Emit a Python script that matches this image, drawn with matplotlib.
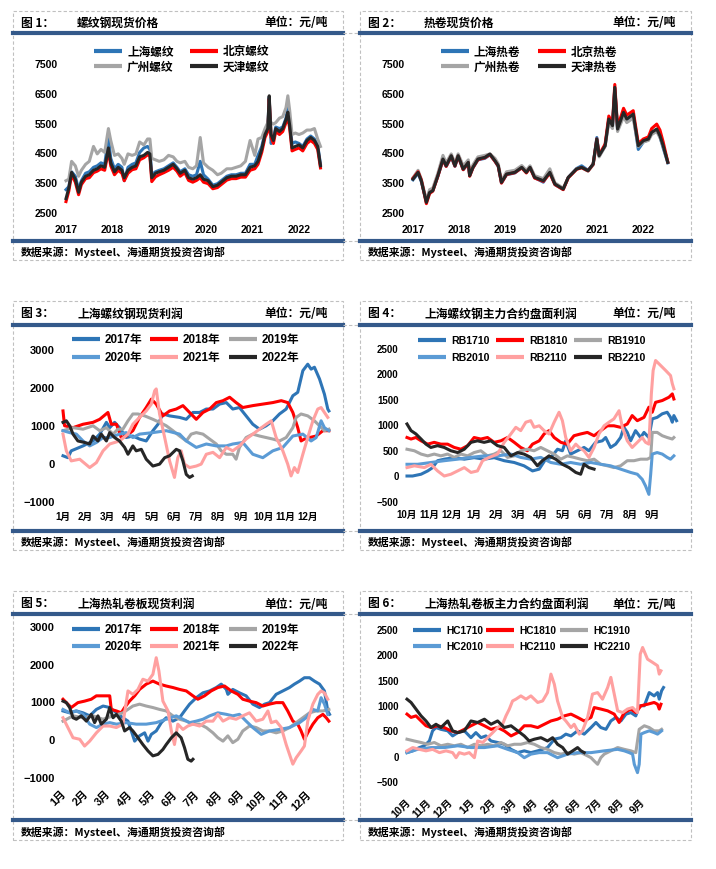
import matplotlib
matplotlib.use("Agg")
import matplotlib.pyplot as plt
from matplotlib.lines import Line2D
from matplotlib.patches import Rectangle
from matplotlib.transforms import ScaledTranslation

W, H = 716, 870
CJK = ['Noto Sans CJK SC', 'DejaVu Sans']
NUM = ['Liberation Sans', 'Noto Sans CJK SC', 'DejaVu Sans']

C1 = '#2E75B6'   # 上海 / 2017 / x1710
C2 = '#FF0000'   # 北京 / 2018 / x1810
C3 = '#A5A5A5'   # 广州 / 2019 / x1910
C4 = '#5B9BD5'   # 2020 / x2010
C5 = '#FFA0A0'   # 2021 / x2110
C6 = '#262626'   # 天津 / 2022 / x2210
BAR = '#34598A'

# ---------- 图1 螺纹钢现货价格 ----------
rebar_t = [2017.00, 2017.06, 2017.12, 2017.20, 2017.27, 2017.33, 2017.42, 2017.50, 2017.59, 2017.67,
           2017.75, 2017.83, 2017.91, 2017.96, 2018.04, 2018.12, 2018.20, 2018.25, 2018.33, 2018.42,
           2018.50, 2018.58, 2018.67, 2018.75, 2018.80, 2018.84, 2018.92, 2019.00, 2019.10, 2019.20,
           2019.30, 2019.38, 2019.45, 2019.55, 2019.63, 2019.72, 2019.80, 2019.88, 2019.95, 2020.05,
           2020.15, 2020.25, 2020.33, 2020.45, 2020.55, 2020.65, 2020.75, 2020.85, 2020.95, 2021.05,
           2021.12, 2021.20, 2021.27, 2021.33, 2021.36, 2021.40, 2021.45, 2021.50, 2021.58, 2021.65,
           2021.72, 2021.76, 2021.80, 2021.85, 2021.92, 2022.00, 2022.08, 2022.17, 2022.25, 2022.33,
           2022.40, 2022.46]
rebar_sh = [3250, 3350, 3850, 3700, 3250, 3550, 3800, 3850, 4000, 4050, 4150, 4100, 5000, 4300, 3950,
            4100, 4000, 3550, 4000, 4100, 4150, 4500, 4650, 4700, 4600, 3750, 3850, 3900, 3950, 4050,
            4150, 4000, 3850, 3950, 3750, 3700, 3750, 4200, 3750, 3600, 3400, 3450, 3550, 3700, 3750,
            3750, 3800, 3800, 4100, 4100, 4400, 4700, 5150, 5350, 6350, 4800, 4950, 5350, 5300, 5350,
            5650, 6000, 5450, 4800, 4850, 4800, 4700, 4950, 5050, 4950, 4750, 4100]
rebar_bj = [2850, 3200, 3750, 3500, 3080, 3420, 3620, 3650, 3820, 3870, 3950, 3900, 4550, 4050, 3750,
            3900, 3800, 3550, 3800, 3920, 3950, 4250, 4320, 4420, 4380, 3520, 3680, 3750, 3820, 3900,
            4000, 3870, 3700, 3820, 3560, 3500, 3560, 3650, 3500, 3450, 3280, 3320, 3420, 3570, 3620,
            3620, 3670, 3670, 3900, 3950, 4100, 4500, 5000, 5200, 6300, 5000, 4800, 5200, 5100, 5200,
            5500, 5700, 5300, 4550, 4600, 4650, 4550, 4800, 4900, 4800, 4600, 3980]
rebar_gz = [3550, 3600, 4200, 4050, 3700, 3900, 4100, 4200, 4700, 4450, 4600, 4500, 5300, 4900, 4400,
            4450, 4300, 4100, 4450, 4400, 4450, 4850, 4750, 4950, 4950, 4300, 4250, 4200, 4250, 4400,
            4350, 4200, 4150, 4200, 4000, 3950, 4050, 5000, 4150, 4000, 3900, 3750, 3800, 3950, 3950,
            4000, 4050, 4200, 4900, 4400, 4950, 5000, 5300, 5500, 5650, 5500, 5450, 5500, 5650, 5700,
            6000, 6400, 5900, 5100, 5150, 5100, 5150, 5250, 5250, 5300, 4950, 4700]
rebar_tj = [2950, 3300, 3830, 3600, 3160, 3500, 3700, 3750, 3900, 3950, 4050, 4000, 4650, 4150, 3850,
            4000, 3900, 3650, 3900, 4000, 4050, 4350, 4400, 4500, 4450, 3650, 3800, 3850, 3900, 4000,
            4100, 3950, 3800, 3900, 3650, 3600, 3650, 3750, 3600, 3550, 3350, 3400, 3500, 3650, 3700,
            3700, 3750, 3750, 4000, 4050, 4200, 4600, 5100, 5300, 6400, 5100, 4900, 5300, 5200, 5300,
            5600, 5850, 5400, 4650, 4700, 4750, 4650, 4900, 5000, 4900, 4700, 4050]

# ---------- 图2 热卷现货价格 ----------
hrc_t = [2017.00, 2017.11, 2017.18, 2017.29, 2017.36, 2017.43, 2017.54, 2017.65, 2017.72, 2017.83,
         2017.91, 2017.98, 2018.09, 2018.20, 2018.23, 2018.30, 2018.41, 2018.56, 2018.67, 2018.78,
         2018.85, 2018.92, 2019.03, 2019.21, 2019.36, 2019.46, 2019.54, 2019.64, 2019.83, 2019.97,
         2020.08, 2020.26, 2020.37, 2020.55, 2020.66, 2020.80, 2020.91, 2020.99, 2021.04, 2021.17,
         2021.25, 2021.33, 2021.38, 2021.44, 2021.57, 2021.64, 2021.78, 2021.89, 2022.00, 2022.11,
         2022.18, 2022.29, 2022.36, 2022.43, 2022.53]
hrc_sh = [3580, 3800, 3520, 2850, 3180, 3230, 3700, 4250, 4030, 4350, 4030, 4360, 3920, 4130, 3720,
          3980, 4250, 4300, 4420, 4200, 4030, 3480, 3750, 3810, 3990, 3840, 4020, 3650, 3500, 3860,
          3420, 3260, 3660, 3960, 4050, 3900, 4100, 5000, 4380, 4720, 5600, 5350, 6650, 5250, 5800,
          5580, 5750, 4600, 4850, 4920, 5150, 5250, 5020, 4650, 4150]
hrc_bj = [3630, 3850, 3580, 2780, 3120, 3200, 3700, 4250, 4030, 4370, 4040, 4370, 3920, 4150, 3700,
          3980, 4260, 4320, 4430, 4200, 4040, 3470, 3760, 3820, 3980, 3810, 3980, 3640, 3530, 3800,
          3420, 3250, 3650, 3930, 3990, 3880, 4100, 4950, 4420, 4780, 5720, 5480, 6780, 5350, 5980,
          5750, 5900, 4800, 4950, 5020, 5300, 5450, 5250, 4850, 4180]
hrc_gz = [3650, 3900, 3600, 2900, 3250, 3300, 3800, 4400, 4150, 4450, 4150, 4450, 4050, 4250, 3800,
          4080, 4350, 4400, 4450, 4300, 4120, 3550, 3850, 3900, 4060, 3900, 4050, 3720, 3620, 3950,
          3480, 3300, 3650, 3950, 3980, 3870, 4080, 4850, 4350, 4700, 5500, 5300, 6550, 5200, 5700,
          5500, 5650, 4700, 4850, 4900, 5100, 5200, 5000, 4700, 4200]
hrc_tj = [3606, 3830, 3550, 2822, 3158, 3214, 3718, 4277, 4054, 4390, 4054, 4390, 3942, 4166, 3718,
          3998, 4277, 4333, 4445, 4221, 4054, 3494, 3774, 3830, 3998, 3830, 3998, 3662, 3550, 3830,
          3438, 3270, 3662, 3942, 3998, 3886, 4110, 4949, 4390, 4725, 5620, 5396, 6683, 5284, 5844,
          5620, 5788, 4725, 4893, 4949, 5172, 5284, 5060, 4725, 4166]

# ---------- 图3 上海螺纹钢现货利润 (x: months since 1 Jan) ----------
rs17_m = [0, 0.22, 0.37, 0.9, 1.35, 1.65, 1.95, 2.1, 2.32, 2.54, 2.84, 3.14, 3.44, 3.74, 4.04, 4.27,
          4.49, 4.79, 5.24, 5.54, 5.84, 6.14, 6.44, 6.74, 7.04, 7.34, 7.63, 7.93, 8.23, 8.53, 8.83,
          9.13, 9.43, 9.73, 10.03, 10.33, 10.55, 10.78, 11.0, 11.15, 11.3, 11.53, 11.75, 11.9, 11.95]
rs17_v = [190, 140, 320, 450, 580, 760, 1070, 930, 1070, 930, 670, 710, 630, 580, 850, 1020, 1290,
          1240, 1200, 1150, 1330, 1330, 1420, 1420, 1550, 1590, 1420, 1460, 1240, 1020, 890, 980,
          1110, 1290, 1420, 1770, 1860, 2430, 2600, 2470, 2520, 2210, 1810, 1420, 1370]
rs18_m = [0, 0.07, 0.45, 0.9, 1.35, 1.65, 2.02, 2.17, 2.4, 2.62, 2.84, 3.14, 3.44, 3.74, 3.97, 4.19,
          4.49, 4.79, 5.09, 5.39, 5.69, 5.99, 6.29, 6.59, 6.89, 7.19, 7.49, 7.78, 8.08, 8.53, 8.98,
          9.43, 9.81, 10.1, 10.33, 10.55, 10.7, 10.85, 11.08, 11.38, 11.68, 11.95]
rs18_v = [1370, 980, 930, 1020, 1070, 1150, 1330, 1020, 1020, 670, 710, 850, 1200, 1460, 1680, 1550,
          1240, 1370, 1420, 1510, 1330, 1150, 1330, 1420, 1590, 1640, 1730, 1590, 1460, 1510, 1550,
          1590, 1640, 1590, 1330, 930, 580, 630, 670, 710, 850, 850]
rs19_m = [0, 0.45, 0.9, 1.35, 1.65, 1.95, 2.25, 2.47, 2.69, 2.92, 3.14, 3.37, 3.67, 4.04, 4.34, 4.64,
          4.94, 5.24, 5.54, 5.76, 5.99, 6.29, 6.59, 6.89, 7.11, 7.34, 7.63, 7.78, 7.93, 8.23, 8.53,
          8.83, 9.13, 9.43, 9.73, 10.03, 10.33, 10.48, 10.7, 11.0, 11.3, 11.53, 11.75, 11.95]
rs19_v = [850, 930, 890, 980, 850, 930, 760, 890, 890, 1110, 1290, 1290, 1240, 1150, 1070, 980, 850,
          710, 580, 760, 800, 760, 630, 500, 320, 230, 230, 100, 410, 670, 760, 710, 670, 630, 580,
          670, 930, 1200, 1290, 1240, 1110, 980, 850, 890]
rs20_m = [0, 0.3, 0.6, 0.9, 1.2, 1.5, 1.8, 2.1, 2.54, 2.84, 3.14, 3.44, 4.04, 4.64, 5.24, 5.54, 5.99,
          6.44, 6.89, 7.34, 7.63, 8.08, 8.53, 8.98, 9.43, 9.88, 10.33, 10.78, 11.15, 11.38, 11.6,
          11.75, 11.95]
rs20_v = [850, 800, 760, 580, 450, 540, 670, 670, 760, 800, 670, 760, 800, 850, 760, 580, 410, 500,
          450, 450, 500, 540, 230, 140, 320, 410, 710, 760, 580, 670, 1110, 930, 850]
rs21_m = [0, 0.15, 0.37, 0.75, 1.2, 1.5, 1.8, 2.1, 2.54, 2.92, 3.14, 3.44, 3.74, 3.97, 4.12, 4.19,
          4.34, 4.57, 4.79, 5.01, 5.16, 5.31, 5.46, 5.69, 5.99, 6.21, 6.44, 6.74, 7.04, 7.34, 7.63,
          7.93, 8.23, 8.53, 8.83, 9.13, 9.36, 9.58, 9.88, 10.1, 10.25, 10.4, 10.55, 10.78, 11.0,
          11.23, 11.45, 11.6, 11.75, 11.9]
rs21_v = [760, 320, 55, 100, -120, 10, 320, 500, 580, 760, 1020, 1200, 1370, 1550, 1900, 1950, 1290,
          670, 55, -380, 140, 320, -30, -120, -80, -30, 230, 280, 140, 410, 320, 450, 630, 760, 890,
          1020, 1110, 670, 320, -30, -340, -120, -250, 230, 670, 1110, 1420, 1460, 1330, 1200]
rs22_m = [0, 0.15, 0.3, 0.45, 0.67, 0.97, 1.2, 1.35, 1.57, 1.72, 1.95, 2.1, 2.32, 2.54, 2.77, 2.92,
          3.14, 3.29, 3.52, 3.74, 4.04, 4.34, 4.57, 4.79, 5.09, 5.24, 5.39, 5.54, 5.69, 5.81]
rs22_v = [1070, 1110, 980, 760, 580, 540, 500, 710, 580, 760, 580, 800, 670, 580, 410, 230, 450, 320,
          360, 100, -80, -30, 140, 190, 360, 320, 55, -300, -380, -340]

# ---------- 图4 上海螺纹钢主力合约盘面利润 (x: months since 1 Oct) ----------
rb1710_m = [0, 0.25, 0.63, 0.93, 1.15, 1.37, 1.67, 2.12, 2.57, 3.01, 3.46, 3.91, 4.36, 4.81, 5.25,
            5.63, 5.93, 6.22, 6.45, 6.75, 6.97, 7.12, 7.34, 7.64, 7.94, 8.16, 8.46, 8.76, 8.91, 9.13,
            9.36, 9.58, 9.73, 9.88, 10.03, 10.25, 10.48, 10.63, 10.85, 11.0, 11.22, 11.45, 11.67,
            11.82, 11.9, 11.97, 12.09]
rb1710_v = [-10, -10, 25, 90, 155, 290, 320, 350, 320, 350, 320, 350, 290, 255, 190, 90, 125, 320,
            350, 515, 485, 680, 420, 485, 550, 485, 650, 680, 745, 550, 615, 745, 945, 845, 680, 880,
            745, 845, 745, 1110, 1140, 1210, 1240, 1140, 1045, 1175, 1075]
rb1810_m = [0, 0.18, 0.4, 0.63, 0.93, 1.22, 1.52, 1.82, 2.12, 2.42, 2.72, 3.01, 3.31, 3.61, 3.91,
            4.21, 4.51, 4.81, 5.1, 5.4, 5.63, 5.93, 6.15, 6.37, 6.6, 6.9, 7.19, 7.49, 7.79, 8.09,
            8.39, 8.69, 8.99, 9.28, 9.58, 9.88, 10.1, 10.33, 10.63, 10.85, 11.0, 11.15, 11.45, 11.75,
            11.9, 11.97]
rb1810_v = [745, 715, 745, 680, 615, 650, 615, 615, 550, 515, 585, 745, 715, 745, 650, 680, 745, 650,
            550, 485, 615, 680, 815, 880, 745, 650, 615, 780, 815, 845, 780, 880, 975, 975, 945, 1010,
            1175, 1075, 1140, 1340, 1240, 1435, 1470, 1535, 1600, 1500]
rb1910_m = [0, 0.33, 0.63, 0.93, 1.22, 1.52, 1.82, 2.12, 2.42, 2.72, 3.01, 3.31, 3.61, 3.91, 4.21,
            4.51, 4.81, 5.1, 5.4, 5.7, 6.0, 6.3, 6.6, 6.9, 7.19, 7.49, 7.79, 8.09, 8.39, 8.69, 8.99,
            9.28, 9.58, 9.88, 10.18, 10.48, 10.78, 10.93, 11.0, 11.22, 11.45, 11.67, 11.9, 11.97]
rb1910_v = [515, 485, 420, 385, 420, 385, 420, 355, 420, 385, 450, 485, 385, 420, 485, 355, 385, 485,
            515, 485, 550, 485, 420, 320, 385, 355, 320, 290, 320, 220, 190, 155, 190, 290, 290, 320,
            320, 355, 845, 845, 780, 745, 715, 745]
rb2010_m = [0, 0.48, 1.07, 1.67, 2.27, 2.87, 3.46, 4.06, 4.66, 5.1, 5.55, 6.0, 6.45, 6.9, 7.34, 7.79,
            8.24, 8.69, 9.13, 9.58, 10.03, 10.33, 10.55, 10.7, 10.85, 10.93, 11.0, 11.22, 11.45, 11.67,
            11.82, 11.97]
rb2010_v = [220, 220, 255, 290, 320, 355, 385, 385, 420, 355, 320, 355, 255, 220, 255, 220, 255, 220,
            190, 125, 60, 25, -75, -205, -370, 25, 420, 450, 420, 355, 320, 385]
rb2110_m = [0, 0.33, 0.78, 1.07, 1.37, 1.67, 1.97, 2.27, 2.57, 2.87, 3.16, 3.39, 3.69, 4.06, 4.36,
            4.66, 4.88, 5.1, 5.33, 5.55, 5.7, 5.93, 6.15, 6.37, 6.6, 6.82, 6.97, 7.12, 7.34, 7.57,
            7.72, 7.94, 8.16, 8.39, 8.61, 8.84, 9.06, 9.28, 9.51, 9.66, 9.88, 10.1, 10.33, 10.55, 10.7,
            10.85, 10.96, 11.04, 11.15, 11.37, 11.6, 11.82, 11.9, 11.97]
rb2110_v = [155, 190, 155, 220, 90, -10, 25, 90, 155, 60, 90, 290, 355, 420, 650, 815, 945, 880, 1045,
            1075, 945, 975, 880, 815, 1045, 1240, 1075, 745, 485, 615, 550, 485, 355, 550, 815, 975,
            1045, 1110, 1270, 945, 680, 550, 650, 745, 650, 615, 1600, 2060, 2255, 2160, 2060, 1960,
            1800, 1700]
rb2210_m = [0, 0.18, 0.4, 0.63, 0.85, 1.07, 1.37, 1.67, 1.97, 2.27, 2.57, 2.87, 3.16, 3.46, 3.76,
            4.06, 4.36, 4.66, 4.96, 5.25, 5.55, 5.85, 6.07, 6.37, 6.67, 6.97, 7.27, 7.57, 7.79, 7.94,
            8.16, 8.39]
rb2210_v = [1010, 880, 815, 715, 615, 550, 585, 550, 485, 450, 515, 650, 680, 650, 680, 585, 550, 385,
            450, 420, 355, 190, 290, 385, 320, 220, 155, 60, 25, 220, 155, 125]

# ---------- 图5 上海热轧卷板现货利润 ----------
hs17_m = [0, 0.3, 0.6, 0.9, 1.2, 1.5, 1.8, 2.1, 2.4, 2.69, 2.92, 3.07, 3.22, 3.44, 3.67, 3.82, 3.97,
          4.19, 4.42, 4.64, 4.94, 5.24, 5.46, 5.69, 5.99, 6.29, 6.59, 6.89, 7.11, 7.34, 7.41, 7.63,
          7.93, 8.23, 8.53, 8.83, 9.06, 9.28, 9.58, 9.88, 10.18, 10.4, 10.63, 10.85, 11.08, 11.3,
          11.53, 11.75, 11.9, 11.98]
hs17_v = [750, 700, 750, 700, 620, 790, 880, 840, 700, 570, 480, 220, -50, 90, 170, -50, 130, 220,
          440, 570, 480, 570, 750, 930, 1100, 1230, 1280, 1370, 1460, 1320, 1190, 1320, 1230, 1150,
          930, 840, 930, 970, 1190, 1280, 1370, 1460, 1540, 1630, 1630, 1540, 1460, 1280, 750, 660]
hs18_m = [0, 0.15, 0.37, 0.67, 0.97, 1.27, 1.5, 1.8, 2.1, 2.17, 2.4, 2.62, 2.77, 2.99, 3.22, 3.44,
          3.74, 4.04, 4.34, 4.64, 4.94, 5.24, 5.54, 5.84, 6.06, 6.36, 6.66, 6.96, 7.26, 7.56, 7.86,
          8.08, 8.38, 8.68, 8.98, 9.28, 9.58, 9.88, 10.1, 10.33, 10.55, 10.7, 10.85, 11.0, 11.23,
          11.45, 11.68, 11.83, 11.95]
hs18_v = [1060, 970, 840, 970, 1010, 1060, 1150, 1150, 1150, 790, 750, 700, 840, 1010, 1150, 1320,
          1460, 1540, 1460, 1410, 1370, 1320, 1280, 1150, 1060, 1150, 1280, 1370, 1410, 1280, 1190,
          1060, 1010, 970, 880, 930, 970, 970, 750, 480, 400, 220, 0, 170, 400, 570, 660, 570, 480]
hs19_m = [0, 0.45, 0.9, 1.35, 1.8, 2.25, 2.69, 3.14, 3.44, 3.74, 4.04, 4.34, 4.64, 4.94, 5.24, 5.54,
          5.84, 6.14, 6.44, 6.74, 6.96, 7.19, 7.41, 7.63, 7.86, 8.08, 8.38, 8.68, 8.98, 9.28, 9.58,
          9.88, 10.18, 10.48, 10.78, 11.08, 11.38, 11.68, 11.95]
hs19_v = [480, 620, 570, 620, 530, 620, 700, 880, 930, 880, 840, 790, 750, 620, 530, 480, 400, 400,
          310, 170, 40, -50, 90, -90, 0, 220, 350, 310, 220, 220, 170, 220, 310, 440, 570, 700, 750,
          750, 790]
hs20_m = [0, 0.3, 0.6, 0.9, 1.2, 1.5, 1.8, 2.1, 2.4, 2.84, 3.29, 3.74, 4.19, 4.64, 5.09, 5.39, 5.69,
          5.99, 6.29, 6.59, 6.96, 7.34, 7.63, 7.93, 8.23, 8.53, 8.91, 9.28, 9.73, 10.18, 10.63, 10.93,
          11.23, 11.45, 11.6, 11.75, 11.9]
hs20_v = [790, 700, 750, 660, 400, 310, 400, 440, 400, 440, 400, 400, 440, 530, 620, 530, 440, 480,
          530, 620, 700, 660, 620, 660, 480, 310, 130, 220, 260, 310, 440, 570, 790, 750, 1100, 930,
          660]
hs21_m = [0, 0.22, 0.45, 0.75, 0.97, 1.2, 1.5, 1.8, 2.1, 2.4, 2.69, 2.92, 3.14, 3.37, 3.59, 3.82,
          4.04, 4.19, 4.31, 4.49, 4.72, 4.87, 5.01, 5.16, 5.39, 5.61, 5.84, 6.14, 6.44, 6.74, 6.96,
          7.19, 7.49, 7.78, 8.08, 8.38, 8.68, 8.98, 9.21, 9.36, 9.58, 9.81, 10.03, 10.18, 10.33,
          10.48, 10.7, 10.85, 11.0, 11.23, 11.45, 11.6, 11.75, 11.9]
hs21_v = [570, 310, 40, 0, -180, -50, 170, 350, 350, 310, 400, 1280, 1190, 1320, 1590, 1540, 1720,
          2160, 1810, 1010, 750, 220, -140, 400, 260, 350, 400, 350, 480, 480, 660, 480, 570, 530,
          620, 700, 480, 530, 750, 440, 480, 310, -140, -400, -660, -490, -310, -180, 480, 930, 1190,
          1280, 1230, 1060]
hs22_m = [0, 0.15, 0.3, 0.45, 0.6, 0.82, 1.05, 1.27, 1.42, 1.57, 1.72, 1.95, 2.1, 2.25, 2.4, 2.62,
          2.77, 2.99, 3.14, 3.37, 3.59, 3.82, 4.04, 4.27, 4.49, 4.64, 4.87, 5.09, 5.31, 5.46, 5.61,
          5.76, 5.84]
hs22_v = [1010, 970, 840, 570, 530, 620, 480, 660, 440, 620, 400, 530, 840, 570, 660, 480, 220, 310,
          220, 40, -140, -310, -440, -400, -270, -140, 40, 170, 40, -220, -530, -580, -530]

# ---------- 图6 上海热轧卷板主力合约盘面利润 ----------
hc1710_m = [0, 0.27, 0.58, 0.81, 1.05, 1.2, 1.36, 1.59, 1.91, 2.14, 2.38, 2.69, 3.0, 3.23, 3.47,
            3.7, 3.94, 4.25, 4.56, 4.88, 5.19, 5.5, 5.81, 6.13, 6.36, 6.59, 6.91, 7.22, 7.45, 7.69,
            8.0, 8.31, 8.63, 8.86, 9.09, 9.33, 9.56, 9.8, 10.03, 10.27, 10.5, 10.73, 10.89, 11.13,
            11.36, 11.59, 11.75, 11.83, 11.94, 12.03]
hc1710_v = [60, 95, 160, 195, 290, 490, 555, 520, 490, 390, 455, 490, 355, 455, 355, 390, 290, 260,
            225, 125, 60, 95, 60, 95, 125, 160, 325, 355, 425, 390, 490, 425, 555, 655, 555, 520, 685,
            755, 685, 820, 850, 785, 985, 985, 1245, 1180, 1245, 1115, 1280, 1345]
hc1810_m = [0, 0.19, 0.42, 0.66, 0.89, 1.13, 1.44, 1.75, 2.06, 2.38, 2.69, 3.0, 3.31, 3.63, 3.94,
            4.25, 4.56, 4.88, 5.19, 5.5, 5.81, 6.13, 6.44, 6.75, 7.06, 7.38, 7.69, 8.0, 8.31, 8.63,
            8.78, 9.09, 9.41, 9.72, 9.95, 10.19, 10.5, 10.73, 10.97, 11.28, 11.59, 11.75, 11.83, 11.91]
hc1810_v = [820, 755, 785, 685, 590, 555, 590, 555, 490, 455, 520, 590, 655, 590, 520, 555, 490, 390,
            455, 590, 590, 555, 620, 685, 720, 785, 820, 755, 685, 755, 950, 920, 885, 820, 655, 850,
            920, 850, 985, 1015, 1050, 1015, 920, 1015]
hc1910_m = [0, 0.34, 0.66, 0.97, 1.28, 1.59, 1.91, 2.22, 2.53, 2.84, 3.16, 3.47, 3.78, 4.09, 4.41,
            4.72, 5.03, 5.34, 5.66, 5.97, 6.28, 6.59, 6.91, 7.22, 7.53, 7.84, 8.16, 8.47, 8.63, 8.78,
            8.94, 9.09, 9.25, 9.56, 9.88, 10.19, 10.5, 10.73, 10.89, 11.13, 11.36, 11.59, 11.83, 11.94]
hc1910_v = [325, 290, 260, 225, 260, 195, 225, 195, 225, 160, 225, 195, 225, 195, 260, 195, 225, 225,
            260, 225, 160, 125, 60, 30, 60, 30, 60, -5, -40, -105, -170, -40, 30, 95, 160, 125, 95,
            60, 520, 590, 555, 490, 490, 520]
hc2010_m = [0, 0.5, 1.13, 1.75, 2.38, 3.0, 3.63, 4.25, 4.72, 5.19, 5.5, 5.81, 6.2, 6.59, 7.06, 7.53,
            8.0, 8.63, 9.25, 9.88, 10.19, 10.42, 10.58, 10.66, 10.81, 10.89, 10.97, 11.13, 11.36,
            11.59, 11.75, 11.94]
hc2010_v = [60, 125, 160, 160, 195, 160, 160, 195, 125, 60, -40, 30, 60, 60, -40, 30, 60, 60, 95,
            125, 95, 60, 30, -170, -335, -170, 425, 455, 490, 455, 425, 490]
hc2110_m = [0, 0.27, 0.58, 0.89, 1.2, 1.52, 1.83, 2.14, 2.3, 2.45, 2.69, 2.92, 3.16, 3.31, 3.55,
            3.78, 4.02, 4.25, 4.48, 4.64, 4.8, 4.95, 5.11, 5.34, 5.58, 5.81, 6.13, 6.36, 6.59, 6.75,
            6.91, 7.06, 7.3, 7.45, 7.69, 7.84, 8.08, 8.23, 8.47, 8.7, 8.94, 9.17, 9.41, 9.56, 9.72,
            9.88, 10.11, 10.34, 10.58, 10.81, 10.94, 11.05, 11.28, 11.52, 11.75, 11.83, 11.91]
hc2110_v = [95, 160, 125, 95, 125, 60, 95, 60, -40, 60, 30, 60, -40, 290, 260, 355, 455, 555, 620,
            785, 920, 1080, 1115, 1180, 1115, 1180, 1050, 1080, 1245, 1610, 1410, 1080, 755, 685, 555,
            620, 425, 490, 755, 1215, 1245, 1115, 1345, 1545, 1215, 885, 850, 920, 950, 850, 2005,
            2135, 1905, 1840, 1775, 1610, 1675]
hc2210_m = [0, 0.19, 0.42, 0.66, 0.89, 1.13, 1.36, 1.59, 1.91, 2.14, 2.38, 2.69, 3.0, 3.31, 3.63,
            3.94, 4.25, 4.56, 4.88, 5.19, 5.5, 5.73, 5.97, 6.28, 6.59, 6.83, 7.06, 7.3, 7.53, 7.77,
            8.0, 8.16, 8.31]
hc2210_v = [1115, 1050, 920, 785, 685, 555, 620, 555, 685, 490, 455, 490, 685, 655, 720, 620, 685,
            555, 590, 490, 390, 290, 325, 355, 290, 355, 225, 160, 30, 95, 160, 95, 60]

years = ['2017', '2018', '2019', '2020', '2021', '2022']
months_jan = ['1月', '2月', '3月', '4月', '5月', '6月', '7月', '8月', '9月', '10月', '11月', '12月']
months_oct = ['10月', '11月', '12月', '1月', '2月', '3月', '4月', '5月', '6月', '7月', '8月', '9月']
year_labels = ['2017年', '2018年', '2019年', '2020年', '2021年', '2022年']


def fx(x):
    return x / W


def fy(y):
    return 1 - y / H


def frame(fig, L, R, top, title_y, b1, b2, src_y, bottom, num, title, ext=None):
    fig.add_artist(Rectangle((fx(L), fy(bottom)), (R - L) / W, (bottom - top) / H, fill=False,
                             ec='#C0C0C0', lw=0.8, ls=(0, (3, 2)), transform=fig.transFigure))
    for y in (b1, b2):
        fig.add_artist(Line2D([fx(L), fx(R)], [fy(y), fy(y)], color=BAR, lw=3,
                              transform=fig.transFigure))
        if ext:
            # dashed guide running on to the right of the box
            fig.add_artist(Line2D([fx(R), fx(ext)], [fy(y), fy(y)], color='#C0C0C0', lw=0.8,
                                  ls=(0, (3, 2)), transform=fig.transFigure))
    kw = dict(fontsize=8.5, fontweight='bold', family=CJK, va='center')
    fig.text(fx(L + 8), fy(title_y), f'图 {num}：', ha='left', **kw)
    fig.text(fx(L + 64), fy(title_y), title, ha='left', **kw)
    fig.text(fx(R - 15), fy(title_y), '单位：元/吨', ha='right', **kw)
    fig.text(fx(L + 8), fy(src_y), '数据来源：Mysteel、海通期货投资咨询部', ha='left',
             fontsize=7.8, fontweight='bold', family=CJK, va='center')


def make_ax(fig, left, right, top, bottom, xlim, ylim):
    ax = fig.add_axes([fx(left), fy(bottom), (right - left) / W, (bottom - top) / H])
    ax.set_xlim(*xlim)
    ax.set_ylim(*ylim)
    for s in ax.spines.values():
        s.set_visible(False)
    ax.patch.set_alpha(0)
    ax.tick_params(length=0)
    return ax


def legend(fig, labels, colors, cols_x, rows_y, fs, family):
    for i, (lab, c) in enumerate(zip(labels, colors)):
        r, k = divmod(i, len(cols_x))
        x0, y = cols_x[k], rows_y[r]
        fig.add_artist(Line2D([fx(x0), fx(x0 + 28)], [fy(y), fy(y)], color=c, lw=3,
                              solid_capstyle='butt', transform=fig.transFigure))
        fig.text(fx(x0 + 33), fy(y), lab, fontsize=fs, fontweight='bold', family=family,
                 ha='left', va='center')


def yticks(ax, vals, fs, pad=6):
    ax.set_yticks(vals, [str(v).replace('-', '\u2212') for v in vals], fontsize=fs,
                  fontweight='bold', family=NUM)
    ax.tick_params(axis='y', pad=pad)


fig = plt.figure(figsize=(W / 100, H / 100), dpi=100)

# ----- 图1 -----
frame(fig, 13, 343, 12, 23, 34, 242, 252, 261, 1, '螺纹钢现货价格', ext=358)
ax = make_ax(fig, 66, 327, 64, 213, (2017.0, 2022.6), (2500, 7500))
for v, c in [(rebar_sh, C1), (rebar_bj, C2), (rebar_gz, C3), (rebar_tj, C6)]:
    ax.plot(rebar_t, v, color=c, lw=2.2, clip_on=False)
ax.set_xticks(range(2017, 2023), years, fontsize=7.5, fontweight='bold', family=NUM)
ax.tick_params(axis='x', pad=9)
yticks(ax, [2500, 3500, 4500, 5500, 6500, 7500], 7.5)
legend(fig, ['上海螺纹', '北京螺纹', '广州螺纹', '天津螺纹'], [C1, C2, C3, C6],
       [94, 190], [52, 67], 8.4, CJK)

# ----- 图2 -----
frame(fig, 360, 691, 12, 23, 34, 242, 252, 261, 2, '热卷现货价格')
ax = make_ax(fig, 413, 671, 64, 213, (2017.0, 2022.6), (2500, 7500))
for v, c in [(hrc_sh, C1), (hrc_gz, C3), (hrc_bj, C2), (hrc_tj, C6)]:
    ax.plot(hrc_t, v, color=c, lw=2.2, clip_on=False)
ax.set_xticks(range(2017, 2023), years, fontsize=7.5, fontweight='bold', family=NUM)
ax.tick_params(axis='x', pad=9)
yticks(ax, [2500, 3500, 4500, 5500, 6500, 7500], 7.5)
legend(fig, ['上海热卷', '北京热卷', '广州热卷', '天津热卷'], [C1, C2, C3, C6],
       [441, 538], [52, 67], 8.4, CJK)

# ----- 图3 -----
frame(fig, 13, 343, 302, 314, 326, 532, 542, 551, 3, '上海螺纹钢现货利润', ext=358)
ax = make_ax(fig, 63, 330, 350, 502, (0, 12), (-1000, 3000))
for m, v, c in [(rs17_m, rs17_v, C1), (rs18_m, rs18_v, C2), (rs19_m, rs19_v, C3),
                (rs20_m, rs20_v, C4), (rs21_m, rs21_v, C5), (rs22_m, rs22_v, C6)]:
    ax.plot(m, v, color=c, lw=2.2, clip_on=False)
ax.set_xticks(range(12), months_jan, fontsize=7, fontweight='bold', family=NUM)
ax.tick_params(axis='x', pad=7)
yticks(ax, [-1000, 0, 1000, 2000, 3000], 8)
legend(fig, year_labels, [C1, C2, C3, C4, C5, C6], [72, 150, 229], [340, 358], 8.4, NUM)

# ----- 图4 -----
frame(fig, 360, 691, 302, 314, 326, 532, 542, 551, 4, '上海螺纹钢主力合约盘面利润')
ax = make_ax(fig, 407, 679, 349, 502, (0, 12.2), (-500, 2500))
for m, v, c in [(rb1710_m, rb1710_v, C1), (rb1810_m, rb1810_v, C2), (rb1910_m, rb1910_v, C3),
                (rb2010_m, rb2010_v, C4), (rb2110_m, rb2110_v, C5), (rb2210_m, rb2210_v, C6)]:
    ax.plot(m, v, color=c, lw=2.2, clip_on=False)
ax.set_xticks(range(12), months_oct, fontsize=7, fontweight='bold', family=NUM)
ax.tick_params(axis='x', pad=6)
yticks(ax, [-500, 0, 500, 1000, 1500, 2000, 2500], 7)
legend(fig, ['RB1710', 'RB1810', 'RB1910', 'RB2010', 'RB2110', 'RB2210'],
       [C1, C2, C3, C4, C5, C6], [418, 496, 574], [341, 358], 7.6, NUM)

# ----- 图5 -----
frame(fig, 13, 343, 592, 604, 615, 821, 832, 841, 5, '上海热轧卷板现货利润', ext=358)
ax = make_ax(fig, 63, 330, 627, 778, (0, 12), (-1000, 3000))
for m, v, c in [(hs17_m, hs17_v, C1), (hs18_m, hs18_v, C2), (hs19_m, hs19_v, C3),
                (hs20_m, hs20_v, C4), (hs21_m, hs21_v, C5), (hs22_m, hs22_v, C6)]:
    ax.plot(m, v, color=c, lw=2.2, clip_on=False)
ax.set_xticks(range(12), months_jan, fontsize=7.8, fontweight='bold', family=NUM,
              rotation=45, ha='right', va='top', rotation_mode='anchor')
ax.tick_params(axis='x', pad=8)
for lab in ax.get_xticklabels():
    lab.set_transform(lab.get_transform() + ScaledTranslation(-0.02, 0, fig.dpi_scale_trans))
yticks(ax, [-1000, 0, 1000, 2000, 3000], 8)
legend(fig, year_labels, [C1, C2, C3, C4, C5, C6], [72, 150, 229], [630, 647], 8.4, NUM)

# ----- 图6 -----
frame(fig, 360, 691, 592, 604, 615, 821, 832, 841, 6, '上海热轧卷板主力合约盘面利润')
ax = make_ax(fig, 407, 665, 630, 782, (0, 12.1), (-500, 2500))
for m, v, c in [(hc1710_m, hc1710_v, C1), (hc1810_m, hc1810_v, C2), (hc1910_m, hc1910_v, C3),
                (hc2010_m, hc2010_v, C4), (hc2110_m, hc2110_v, C5), (hc2210_m, hc2210_v, C6)]:
    ax.plot(m, v, color=c, lw=2.2, clip_on=False)
ax.set_xticks(range(12), months_oct, fontsize=7.5, fontweight='bold', family=NUM,
              rotation=45, ha='right', va='top', rotation_mode='anchor')
ax.tick_params(axis='x', pad=11)
for lab in ax.get_xticklabels():
    lab.set_transform(lab.get_transform() + ScaledTranslation(-0.02, 0, fig.dpi_scale_trans))
yticks(ax, [-500, 0, 500, 1000, 1500, 2000, 2500], 7)
legend(fig, ['HC1710', 'HC1810', 'HC1910', 'HC2010', 'HC2110', 'HC2210'],
       [C1, C2, C3, C4, C5, C6], [413, 486, 560], [631, 647], 7.3, NUM)

fig.savefig('out.png', dpi=100)
